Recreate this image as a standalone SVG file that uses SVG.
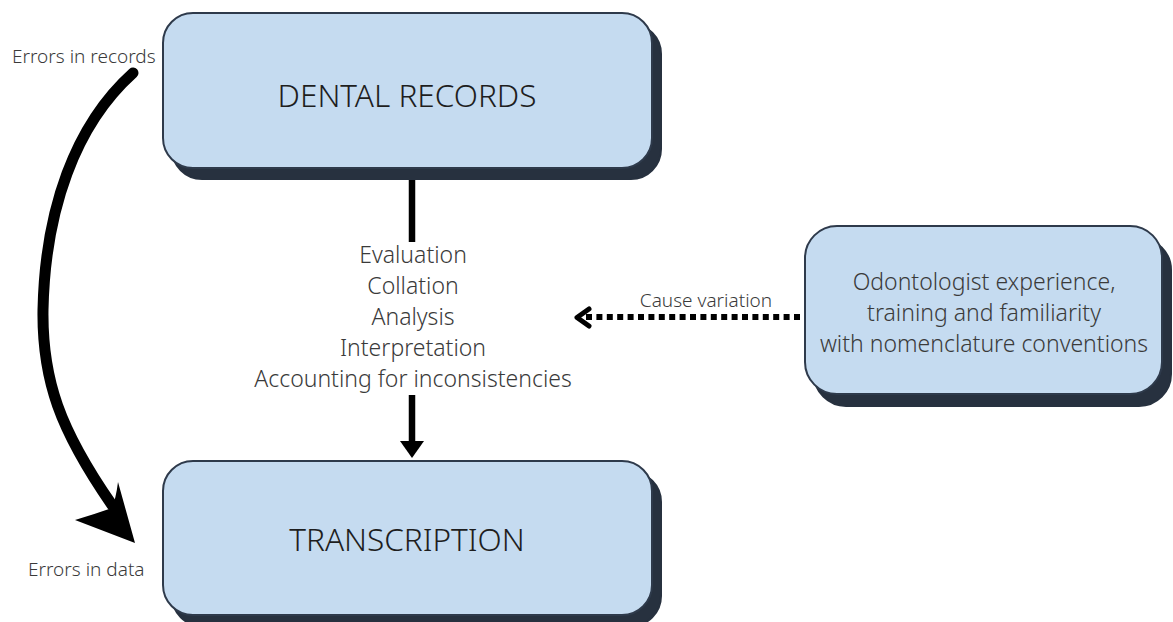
<svg xmlns="http://www.w3.org/2000/svg" width="1173" height="622" viewBox="0 0 1173 622">
<style>
.box{fill:#c5dbf0;stroke:#2e3a4b;stroke-width:2}
.shadow{fill:#27313f;stroke:#27313f;stroke-width:2}
.big{font-family:"Noto Sans","Liberation Sans",sans-serif;font-weight:300;font-size:31.5px;fill:#1e1e1e;text-anchor:middle}
.mid{font-family:"Noto Sans","Liberation Sans",sans-serif;font-weight:300;font-size:23px;fill:#3a3a3a;text-anchor:middle}
.small{font-family:"Noto Sans","Liberation Sans",sans-serif;font-weight:300;font-size:19px;fill:#3a3a3a}
</style>
<rect width="1173" height="622" fill="#fff"/>
<g id="connectors">
<line x1="412" y1="180" x2="412" y2="242" stroke="#000" stroke-width="6.5"/>
<line x1="412" y1="395" x2="412" y2="444" stroke="#000" stroke-width="6.5"/>
<polygon points="400,441 424,441 412,458" fill="#000"/>
<line x1="800" y1="317" x2="584" y2="317" stroke="#000" stroke-width="6" stroke-dasharray="6 4.4"/>
<path d="M589,309 L577,317.5 L589,326" fill="none" stroke="#000" stroke-width="5" stroke-linecap="round" stroke-linejoin="round"/>
<path d="M133,73 C75,125 45,210 43,310 C42,380 60,430 112,505" fill="none" stroke="#000" stroke-width="11" stroke-linecap="round"/>
<path d="M135,543 L118,482 Q116,498 112,508 Q95,514 75,520 Z" fill="#000"/>
<text class="small" x="706" y="307" text-anchor="middle">Cause variation</text>
<text class="small" x="12" y="63">Errors in records</text>
<text class="small" x="28" y="576">Errors in data</text>
<text class="mid" x="413" y="263">Evaluation</text>
<text class="mid" x="413" y="294">Collation</text>
<text class="mid" x="413" y="325">Analysis</text>
<text class="mid" x="413" y="356">Interpretation</text>
<text class="mid" x="413" y="387">Accounting for inconsistencies</text>
</g>
<g id="dental-records">
<rect class="shadow" x="172" y="24" width="489" height="155" rx="30"/>
<rect class="box" x="163" y="13" width="489" height="155" rx="30"/>
<text class="big" x="407" y="107">DENTAL RECORDS</text>
</g>
<g id="transcription">
<rect class="shadow" x="172" y="472" width="489" height="154" rx="30"/>
<rect class="box" x="163" y="461" width="489" height="154" rx="30"/>
<text class="big" x="407" y="551">TRANSCRIPTION</text>
</g>
<g id="odontologist">
<rect class="shadow" x="814" y="238" width="357" height="168" rx="32"/>
<rect class="box" x="805" y="226" width="357" height="168" rx="32"/>
<text class="mid" x="984" y="290">Odontologist experience,</text>
<text class="mid" x="984" y="321">training and familiarity</text>
<text class="mid" x="984" y="352">with nomenclature conventions</text>
</g>
</svg>
